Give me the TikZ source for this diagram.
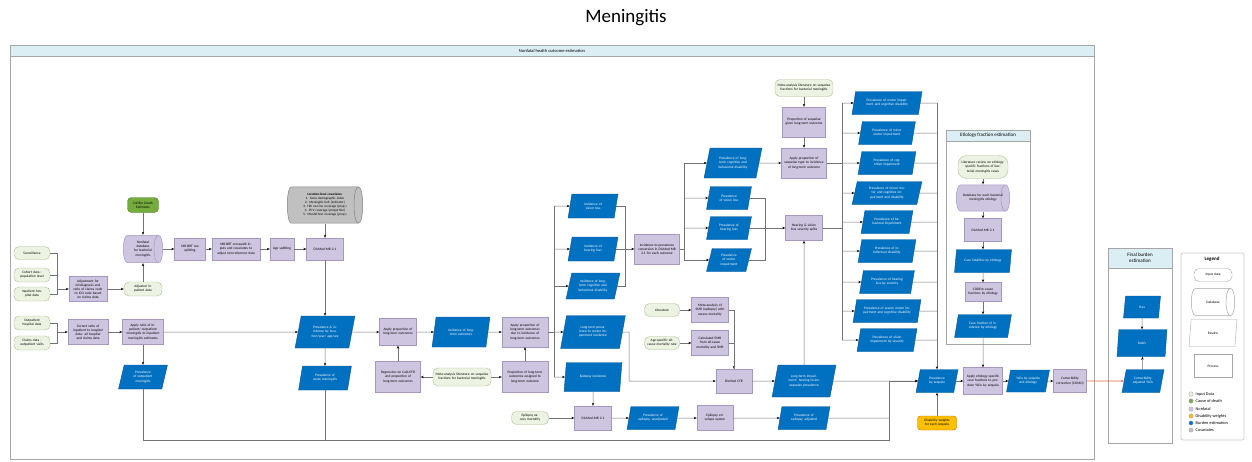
\documentclass[tikz,border=0pt]{standalone}
\usepackage{fontspec}
\setmainfont{Carlito}
\usetikzlibrary{arrows.meta,shapes.geometric,calc}
\definecolor{procfill}{RGB}{206,197,224}
\definecolor{procdraw}{RGB}{165,150,195}
\definecolor{resfill}{RGB}{0,112,192}
\definecolor{resdraw}{RGB}{0,84,150}
\definecolor{infill}{RGB}{237,243,226}
\definecolor{indraw}{RGB}{170,192,142}
\definecolor{codfill}{RGB}{118,172,62}
\definecolor{dwfill}{RGB}{255,192,0}
\definecolor{covfill}{RGB}{192,192,192}
\definecolor{hdrfill}{RGB}{219,238,243}
\definecolor{lnclr}{RGB}{115,115,115}
\definecolor{burnclr}{RGB}{214,104,64}
\tikzset{
  ln/.style={draw=lnclr, line width=0.5pt},
  ar/.style={ln, -{Stealth[length=3pt,width=2.4pt,color=black]}},
  brn/.style={draw=burnclr, line width=0.6pt, -{Stealth[length=3pt,width=2.4pt]}},
  box/.style={line width=0.4pt, align=center, inner sep=0.5pt, font=\fontsize{3.5}{4.1}\selectfont},
  prc/.style={box, rectangle, fill=procfill, draw=procdraw},
  res/.style={box, trapezium, trapezium left angle=70, trapezium right angle=110,
              trapezium stretches=true, fill=resfill, draw=resdraw, text=white},
  inp/.style={box, rectangle, rounded corners=5pt, fill=infill, draw=indraw},
  cod/.style={box, rectangle, rounded corners=4pt, fill=codfill, draw=codfill!70!black},
  dwt/.style={box, rectangle, rounded corners=3pt, fill=dwfill, draw=orange!80!black},
  % stored-data drum: body with a visible end face on the right
  dbs/.style 2 args={box, rectangle, draw=none, path picture={
      \path[fill=#1, draw=#2, line width=0.5pt]
        ($(path picture bounding box.north west)+(4.5pt,-0.4pt)$)
        -- ($(path picture bounding box.north east)+(-4.5pt,-0.4pt)$) coordinate (dq2)
        .. controls ($(path picture bounding box.north east)+(1.1pt,-0.4pt)$)
           and ($(path picture bounding box.south east)+(1.1pt,0.4pt)$)
        .. ($(path picture bounding box.south east)+(-4.5pt,0.4pt)$) coordinate (dq3)
        -- ($(path picture bounding box.south west)+(4.5pt,0.4pt)$)
        .. controls ($(path picture bounding box.south west)+(-1.1pt,0.4pt)$)
           and ($(path picture bounding box.north west)+(-1.1pt,-0.4pt)$)
        .. cycle;
      \draw[draw=#2, line width=0.5pt] (dq2) .. controls +(-6pt,0pt) and +(-6pt,0pt) .. (dq3);
    }},
  cov/.style={dbs={covfill}{gray}, font=\fontsize{3.3}{4}\selectfont},
  frm/.style={draw=gray!70, line width=0.8pt},
  hdr/.style={font=\fontsize{5}{6}\selectfont},
  dot/.style={circle, inner sep=0pt, minimum size=4.4pt, draw=gray!60},
  lgtxt/.style={anchor=west, inner sep=0.5pt, font=\fontsize{4.3}{5}\selectfont},
  wh/.code 2 args={\pgfmathsetmacro\tw{#1-5}%
    \edef\whtmp{\noexpand\tikzset{minimum width=#1pt,minimum height=#2pt,text width=\tw pt}}\whtmp},
  pwh/.code 2 args={\pgfmathsetmacro\tw{#1-0.73*#2-3}%
    \edef\whtmp{\noexpand\tikzset{minimum width=#1pt,minimum height=#2pt,text width=\tw pt}}\whtmp},
  cwh/.code 2 args={\pgfmathsetmacro\tw{#1-14}%
    \edef\whtmp{\noexpand\tikzset{minimum width=#1pt,minimum height=#2pt,text width=\tw pt}}\whtmp},
}

\begin{document}
\begin{tikzpicture}[x=1pt,y=-1pt]
  \useasboundingbox (0,0) rectangle (1252,461);
  \node[font=\fontsize{19}{21}\selectfont] (ttl) at (626,18) {Meningitis};
  % frames
  \draw[frm] (10,45) rectangle (1094,459);
  \draw[frm, fill=hdrfill] (10,45) rectangle (1094,56);
  \node[hdr, font=\fontsize{4.5}{5}\selectfont] (hmain) at (552,50.5) {Nonfatal health outcome estimation};
  \draw[frm] (946,130) rectangle (1030,344);
  \draw[frm, fill=hdrfill] (946,130) rectangle (1030,141);
  \node[hdr] (hetio) at (988,135.5) {Etiology fraction estimation};
  \draw[frm] (1108,248) rectangle (1172,443);
  \draw[frm, fill=hdrfill] (1108,248) rectangle (1172,268);
  \node[hdr, align=center] (hfin) at (1140,258) {Final burden\\estimation};
  \draw[draw=gray!40, line width=0.8pt, rounded corners=2pt] (1181,253) rectangle (1244,440);
  \node[hdr, font=\fontsize{5}{6}\selectfont\bfseries] (hlgd) at (1212,259) {Legend};

  % inputs and data preparation
  \node[inp,wh={36}{13}] (in1) at (32,253) {Surveillance};
  \node[inp,wh={36}{14}] (in2) at (32,275) {Cohort data - population level};
  \node[inp,wh={36}{14}] (in3) at (32,294) {Inpatient hospital data};
  \node[inp,wh={36}{14}] (in4) at (32,323) {Outpatient hospital data};
  \node[inp,wh={36}{14}] (in5) at (32,343) {Claims data - outpatient visits};
  \node[prc,wh={38}{25}] (adj) at (88,289) {Adjustment for misdiagnosis and ratio of claims code to ICD code based on claims data};
  \node[inp,wh={38}{14}] (adjd) at (143,289) {Adjusted inpatient data};
  \node[dbs={procfill}{procdraw},cwh={40}{28}] (db) at (143,249) {Nonfatal database for bacterial meningitis};
  \node[cod,wh={31}{15}] (codem) at (143,205) {CoDEm Death Estimates};
  \node[prc,wh={31}{22}] (sexsp) at (190,249) {MR-BRT sex splitting};
  \node[prc,wh={48}{22}] (xwalk) at (236,249) {MR-BRT crosswalk inputs and covariates to adjust non-reference data};
  \node[prc,wh={24}{22}] (agesp) at (282,249) {Age splitting};
  \node[prc,wh={37}{22}] (dismod) at (325,249) {DisMod-MR 2.1};
  \node[cov,cwh={76}{37}] (covs) at (325,205) {\textbf{Location-level covariates:}\\1. Socio-demographic index\\2. Meningitis belt (indicator)\\3. Hib vaccine coverage (prop.)\\4. PCV coverage (proportion)\\5. MenAfriVac coverage (prop.)};
  \node[prc,wh={40}{25}] (corr) at (88,332) {Correct ratio of inpatient to hospital data: all hospital and claims data};
  \node[prc,wh={41}{25}] (apprat) at (143,332) {Apply ratio of inpatient/ outpatient meningitis to inpatient meningitis estimates};
  \node[res,pwh={49}{24}] (prevout) at (143,377) {Prevalence of outpatient meningitis};
  \node[res,pwh={60}{32}] (previnc) at (325,332) {Prevalence \& incidence by location/year/ age/sex};
  \node[res,pwh={53}{24}] (prevac) at (325,378) {Prevalence of acute meningitis};

  % long-term outcomes
  \node[prc,wh={37}{27}] (applt) at (398,332) {Apply proportion of long-term outcomes};
  \node[prc,wh={45}{31}] (reg) at (398,377) {Regression on CoD/CFR and proportion of long-term outcomes};
  \node[inp,wh={58}{18}] (meta1) at (462,377) {Meta-analysis literature on sequelae fractions for bacterial meningitis};
  \node[res,pwh={58}{30}] (inclt) at (461,332) {Incidence of long-term outcomes};
  \node[prc,wh={46}{30}] (appltd) at (525,332) {Apply proportion of long-term outcomes due to incidence of long-term outcomes};
  \node[prc,wh={46}{31}] (proplt) at (525,377) {Proportion of long-term outcomes assigned to long-term outcome};
  \node[inp,wh={37}{13}] (epiem) at (530,418) {Epilepsy excess mortality};
  \node[res,pwh={50}{24}] (inc1) at (593,206) {Incidence of vision loss};
  \node[res,pwh={50}{24}] (inc2) at (593,249) {Incidence of hearing loss};
  \node[res,pwh={54}{26}] (inc3) at (593,286) {Incidence of long-term cognitive and behavioral disability};
  \node[res,pwh={65}{33}] (inc4) at (593,332) {Long-term prevalence to motor impairment incidence};
  \node[res,pwh={58}{29}] (inc5) at (593,377) {Epilepsy incidence};
  \node[prc,wh={45}{30}] (i2p) at (657,249) {Incidence-to-prevalence conversion in DisMod-MR 2.1 for each outcome};
  \node[res,pwh={58}{30}] (prev1) at (733,163) {Prevalence of long-term cognitive and behavioral disability};
  \node[res,pwh={45}{23}] (prev2) at (729,198) {Prevalence of vision loss};
  \node[res,pwh={45}{23}] (prev3) at (729,228) {Prevalence of hearing loss};
  \node[res,pwh={45}{23}] (prev4) at (729,260) {Prevalence of motor impairment};
  \node[inp,wh={58}{17}] (meta2) at (804,88) {Meta-analysis literature on sequelae fractions for bacterial meningitis};
  \node[prc,wh={43}{30}] (seqprop) at (804,122) {Proportion of sequelae given long-term outcome};
  \node[prc,wh={45}{30}] (appseq) at (804,163) {Apply proportion of sequelae type to incidence of long-term outcome};
  \node[prc,wh={37}{25}] (hvsev) at (804,228) {Hearing \& vision loss severity splits};

  % case fatality and epilepsy
  \node[inp,wh={35}{13}] (lit) at (662,310) {Literature};
  \node[prc,wh={37}{25}] (meta3) at (710,310) {Meta-analysis of SMR (epilepsy) with excess mortality};
  \node[inp,wh={35}{13}] (asm) at (662,343) {Age-specific all-cause mortality rate};
  \node[prc,wh={37}{25}] (emr) at (710,343) {Calculated EMR from all-cause mortality and SMR};
  \node[prc,wh={36}{24}] (dcfr) at (734,381) {DisMod CFR};
  \node[res,pwh={64}{32}] (lt) at (804,381) {Long-term impairment: hearing/vision sequelae prevalence};
  \node[prc,wh={37}{24}] (epdm) at (593,418) {DisMod-MR 2.1};
  \node[res,pwh={52}{23}] (epprop) at (653,418) {Prevalence of epilepsy, unadjusted};
  \node[prc,wh={36}{25}] (episys) at (715,418) {Epilepsy envelope system};
  \node[res,pwh={52}{23}] (epadj) at (804,418) {Prevalence of epilepsy, adjusted};

  % sequelae column
  \foreach \i/\yy/\ww/\txt in {
      1/103/70/{Prevalence of motor impairment and cognitive disability},
      2/133/57/{Prevalence of minor motor impairment},
      3/163/58/{Prevalence of cognitive impairment},
      4/193/70/{Prevalence of minor motor and cognitive impairment and disability},
      5/222/52/{Prevalence of behavioral impairment},
      6/251/58/{Prevalence of intellectual disability},
      7/282/55/{Prevalence of hearing loss by severity},
      8/311/68/{Prevalence of severe motor impairment and cognitive disability},
      9/340/60/{Prevalence of vision impairment by severity}}{
    \node[res,pwh={\ww}{23}] (r\i) at (887,\yy) {\txt};
  }

  % etiology
  \node[inp,rounded corners=9pt,wh={50}{23}] (elit) at (983,167) {Literature review on etiology-specific fractions of bacterial meningitis cases};
  \node[dbs={procfill}{procdraw},cwh={54}{27}] (edb) at (983,198) {Database for each bacterial meningitis etiology};
  \node[prc,wh={37}{23}] (edm) at (983,230) {DisMod-MR 2.1};
  \node[res,pwh={57}{23}] (ecf) at (983,261) {Case fatalities by etiology};
  \node[prc,wh={36}{19}] (ecodem) at (983,292) {CODEm cause fractions by etiology};
  \node[res,pwh={57}{23}] (efrac) at (983,326) {Case fraction of incidence by etiology};

  % burden
  \node[res,pwh={42}{23}] (bys) at (937,381) {Prevalence by sequela};
  \node[dwt,wh={39}{14}] (dw) at (937,423) {Disability weights for each sequela};
  \node[prc,wh={39}{27}] (applyc) at (983,381) {Apply etiology-specific case fractions to produce YLDs by sequela};
  \node[res,pwh={43}{22}] (ylds) at (1028,381) {YLDs by sequela and etiology};
  \node[prc,wh={33}{23}] (como) at (1070,381) {Comorbidity correction (COMO)};
  \node[res,pwh={42}{23}] (cadj) at (1143,381) {Comorbidity adjusted YLDs};
  \node[res,pwh={37}{22}] (yll) at (1142,307) {YLLs};
  \node[res,pwh={50}{27}] (dalys) at (1142,343) {DALYs};

  % legend
  \node[inp,fill=white,draw=gray!70,wh={38}{13}] (lg1) at (1213,275) {Input data};
  \node[dbs={white}{gray!70},cwh={44}{28}] (lg2) at (1213,302) {Database};
  \node[res,fill=white,draw=gray!70,text=black,pwh={48}{27}] (lg3) at (1213,333) {Results};
  \node[prc,fill=white,draw=gray!70,wh={38}{23}] (lg4) at (1213,366) {Process};
  \foreach \k/\yy/\c/\t in {1/394/infill/Input Data, 2/401/codfill/Cause of death,
      3/409/procfill/Nonfatal, 4/416/dwfill/Disability weights,
      5/423/resfill/Burden estimation, 6/430/covfill/Covariates}{
    \node[dot, fill=\c] (ld\k) at (1191,\yy) {};
    \node[lgtxt] (lt\k) at (1195,\yy) {\t};
  }

  % bus points
  \coordinate (b1) at (57,289);
  \coordinate (b2) at (57,332);
  \coordinate (bA) at (554,332);
  \coordinate (bB) at (625,249);
  \coordinate (bC) at (684,249);
  \coordinate (bD) at (765,228);
  \coordinate (bE) at (842,163);
  \coordinate (bF) at (937,103);
  \coordinate (bG) at (629,332);
  \coordinate (jn) at (889,440);

  % connectors
  \foreach \n in {in1,in2,in3} \draw[ln] (\n.east) -| (b1);
  \draw[ar] (b1) -- (adj);
  \foreach \n in {in4,in5} \draw[ln] (\n.east) -| (b2);
  \draw[ar] (b2) -- (corr);
  \draw[ar] (adj) -- (adjd);
  \draw[ar] (adjd) -- (db);
  \draw[ar] (codem) -- (db);
  \draw[ar] (db) -- (sexsp);
  \draw[ar] (sexsp) -- (xwalk);
  \draw[ar] (xwalk) -- (agesp);
  \draw[ar] (agesp) -- (dismod);
  \draw[ar] (covs) -- (dismod);
  \draw[ar] (dismod) -- (previnc);
  \draw[ar] (corr) -- (apprat);
  \draw[ar] (apprat) -- (previnc);
  \draw[ar] (apprat) -- (prevout);
  \draw[ar] (previnc) -- (prevac);
  \draw[ar] (prevout) |- (jn) |- (bys.west);
  \draw[ln] (prevac) -- (prevac |- jn);
  \draw[ln] (epadj) -- (epadj -| jn);
  \draw[ar] (lt) -- (bys);
  \draw[ar] (previnc) -- (applt);
  \draw[ar] (applt) -- (inclt);
  \draw[ar] (inclt) -- (appltd);
  \draw[ar] (reg) -- (applt);
  \draw[ar] (meta1) -- (reg);
  \draw[ar] (meta1) -- (proplt);
  \draw[ar] (proplt) -- (appltd);
  \draw[ln] (appltd) -- (bA);
  \draw[ln] (bA |- inc1) -- (bA |- inc5);
  \foreach \n in {inc1,inc2,inc3,inc4,inc5} \draw[ar] (bA |- \n) -- (\n);
  \foreach \n in {inc1,inc2,inc3} \draw[ln] (\n.east) -| (bB);
  \draw[ar] (bB) -- (i2p);
  \draw[ln] (i2p) -- (bC);
  \draw[ln] (bC |- prev1) -- (bC |- prev4);
  \foreach \n in {prev1,prev2,prev3,prev4} \draw[ar] (bC |- \n) -- (\n);
  \foreach \n in {prev2,prev3,prev4} \draw[ln] (\n.east) -| (bD);
  \draw[ar] (bD) -- (hvsev);
  \draw[ar] (prev1) -- (appseq);
  \draw[ar] (meta2) -- (seqprop);
  \draw[ar] (seqprop) -- (appseq);
  \draw[ln] (appseq) -- (bE);
  \draw[ln] (hvsev) -- (hvsev -| bE);
  \draw[ln] (bE |- r1) -- (bE |- r9);
  \foreach \i in {1,...,9}{
    \draw[ar] (bE |- r\i) -- (r\i);
    \draw[ln] (r\i) -- (r\i -| bF);
  }
  \draw[ar] (bF) -- (bys);
  \draw[ar] (inc4.east) -- (bG) |- (dcfr);
  \draw[ar] (inc5) -- (epdm);
  \draw[ar] (epiem) -- (epdm);
  \draw[ar] (epdm) -- (epprop);
  \draw[ar] (epprop) -- (episys);
  \draw[ar] (episys) -- (epadj);
  \draw[ar] (lit) -- (meta3);
  \draw[ar] (asm) -- (emr);
  \draw[ar] (meta3) -| (dcfr);
  \draw[ln] (emr) -| (dcfr);
  \draw[ar] (dcfr) -- (lt);
  \draw[ar] (lt) -- (hvsev);
  \draw[ar] (elit) -- (edb);
  \draw[ar] (edb) -- (edm);
  \draw[ar] (edm) -- (ecf);
  \draw[ar] (ecf) -- (ecodem);
  \draw[ar] (ecodem) -- (efrac);
  \draw[ar] (efrac) -- (applyc);
  \draw[ar] (dw) -- (bys);
  \draw[ar] (bys) -- (applyc);
  \draw[ar] (applyc) -- (ylds);
  \draw[ar] (ylds) -- (como);
  \draw[brn] (como) -- (cadj);
  \draw[ar] (yll) -- (dalys);
  \draw[ar] (cadj) -- (dalys);
\end{tikzpicture}
\end{document}
